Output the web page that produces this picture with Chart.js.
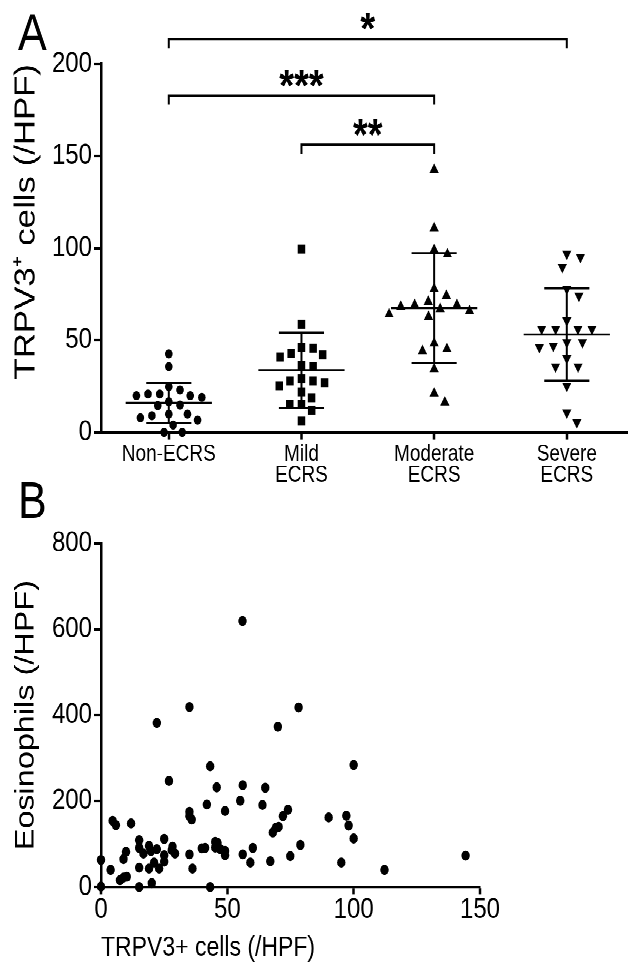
<!DOCTYPE html>
<html>
<head>
<meta charset="utf-8">
<script src="https://cdn.jsdelivr.net/npm/chart.js@4.4.1/dist/chart.umd.min.js"></script>
<style>
html, body { margin: 0; padding: 0; background: #fff; }
html { overflow: hidden; }
body { width: 633px; height: 965px; }
#stage { position: relative; width: 633px; height: 804px; transform-origin: 0 0; }
#stage canvas { display: block; position: absolute; left: 0; }
#chartA { top: 0; }
#chartB { top: 400px; }
</style>
</head>
<body>
<div id="stage">
  <canvas id="chartA" width="633" height="412"></canvas>
  <canvas id="chartB" width="633" height="404"></canvas>
</div>
<script>
// the original figure is stretched vertically, so draw flat and then stretch
const STRETCH = 1.2;

// Panel A - TRPV3+ cells (/HPF) per group
const groups = [['Non-ECRS'], ['Mild', 'ECRS'], ['Moderate', 'ECRS'], ['Severe', 'ECRS']];
const nonEcrs = [42.6, 35.7, 24.8, 23, 20.8, 20.8, 19.9, 19, 19.9, 16.6, 14.5, 14.8, 9.9, 7.9, 6.7, 9, 9.9, 4, 0, 0];
const mildEcrs = [99.5, 58.7, 45.7, 42, 46, 43, 40.9, 35.7, 36.2, 27.9, 27, 29, 25.3, 27.9, 22, 18.8, 15.2, 15.2, 12.1, 6.1];
const moderateEcrs = [142.6, 110.9, 99.1, 96.7, 77.9, 74.2, 71, 69.2, 69.2, 68.3, 67, 65.9, 64.1, 62.8, 48.4, 44.2, 45.3, 34.4, 21.2, 16.3];
const severeEcrs = [96.9, 95.1, 89.7, 77.9, 74.1, 60.7, 56.1, 56.1, 56.1, 56.1, 48.9, 46.9, 46.2, 48.9, 40.2, 35.7, 35.7, 25.2, 10.7, 5.4];
const yTicksA = [0, 50, 100, 150, 200];

// significance brackets: groups compared, bracket height (cells/HPF), label
const sigFrom = [1, 1, 2];
const sigTo = [4, 3, 3];
const sigLevel = [213.5, 182.8, 156.1];
const sigLabel = ['*', '***', '**'];

// Panel B - TRPV3+ cells vs eosinophils
const trpv3 = [56.0, 35.0, 78.2, 22.1, 70.0, 100.0, 43.2, 26.9, 56.1, 45.8, 65.0, 55.1, 41.9, 63.9, 35.0, 49.1, 74.0, 35.0, 35.9, 72.0,
  90.1, 97.1, 98.0, 100.0, 4.6, 5.9, 11.9, 68.0, 69.2, 70.3, 25.0, 15.1, 15.1, 19.0, 22.1, 16.8, 19.8, 28.3, 28.0, 29.3,
  25.0, 9.9, 8.9, 0, 3.8, 7.5, 8.9, 10.2, 0, 15.1, 20.1, 15.1, 19.0, 23.0, 21.0, 25.0, 35.0, 36.2, 39.9, 41.2,
  45.2, 46.1, 45.2, 47.2, 49.1, 49.1, 43.2, 56.1, 60.1, 59.1, 67.0, 74.9, 78.9, 95.1, 112.2, 144.3];
const eosinophils = [619, 419, 418, 382, 373, 284, 281, 247, 237, 232, 231, 201, 192, 191, 175, 177, 180, 165, 157, 165,
  162, 166, 143, 113, 154, 144, 148, 127, 138, 140, 112, 109, 91, 96, 88, 78, 84, 94, 86, 78,
  74, 82, 65, 63, 40, 16, 22, 24, 1, 0, 9, 45, 43, 43, 57, 59, 76, 43, 90, 91,
  105, 103, 92, 88, 84, 74, 0, 76, 91, 57, 60, 72, 98, 57, 40, 73];
const xTicksB = [0, 50, 100, 150];
const yTicksB = [0, 200, 400, 600, 800];

document.getElementById('stage').style.transform = 'scaleY(' + STRETCH + ')';

Chart.defaults.font.family = "'Liberation Sans', Arial, sans-serif";
Chart.defaults.color = '#000';

const mean = a => a.reduce((s, v) => s + v, 0) / a.length;
const sd = a => { const m = mean(a); return Math.sqrt(a.reduce((s, v) => s + (v - m) * (v - m), 0) / (a.length - 1)); };

const panelLetter = {
  id: 'panelLetter',
  afterDraw(chart, args, opts) {
    const ctx = chart.ctx;
    ctx.save();
    ctx.fillStyle = '#000';
    ctx.font = "43px 'Liberation Sans', Arial, sans-serif";
    ctx.textBaseline = 'alphabetic';
    ctx.fillText(opts.text, opts.x, opts.y);
    ctx.restore();
  }
};

// mean +/- SD lines over each group
const meanSd = {
  id: 'meanSd',
  afterDatasetsDraw(chart) {
    const {ctx, scales: {x, y}} = chart;
    ctx.save();
    ctx.strokeStyle = '#000';
    [nonEcrs, mildEcrs, moderateEcrs, severeEcrs].forEach((vals, i) => {
      const g = i + 1, m = mean(vals), s = sd(vals);
      const ym = y.getPixelForValue(m), yt = y.getPixelForValue(m + s), yb = y.getPixelForValue(m - s);
      ctx.lineWidth = 2;
      ctx.beginPath();
      ctx.moveTo(x.getPixelForValue(g), yt);
      ctx.lineTo(x.getPixelForValue(g), yb);
      ctx.stroke();
      ctx.lineWidth = 1.8;
      ctx.beginPath();
      ctx.moveTo(x.getPixelForValue(g - 0.325), ym);
      ctx.lineTo(x.getPixelForValue(g + 0.325), ym);
      ctx.moveTo(x.getPixelForValue(g - 0.17), yt);
      ctx.lineTo(x.getPixelForValue(g + 0.17), yt);
      ctx.moveTo(x.getPixelForValue(g - 0.17), yb);
      ctx.lineTo(x.getPixelForValue(g + 0.17), yb);
      ctx.stroke();
    });
    ctx.restore();
  }
};

const sigBrackets = {
  id: 'sigBrackets',
  afterDraw(chart) {
    const {ctx, scales: {x, y}} = chart;
    const drop = 7.5, fs = 38;
    ctx.save();
    ctx.strokeStyle = '#000';
    ctx.fillStyle = '#000';
    ctx.lineWidth = 2;
    ctx.font = 'bold ' + fs + "px 'Liberation Sans', Arial, sans-serif";
    ctx.textAlign = 'center';
    ctx.textBaseline = 'alphabetic';
    sigLabel.forEach((label, i) => {
      const x0 = x.getPixelForValue(sigFrom[i]), x1 = x.getPixelForValue(sigTo[i]);
      const yy = y.getPixelForValue(sigLevel[i]);
      ctx.beginPath();
      ctx.moveTo(x0, yy + drop);
      ctx.lineTo(x0, yy);
      ctx.lineTo(x1, yy);
      ctx.lineTo(x1, yy + drop);
      ctx.stroke();
      ctx.fillText(label, (x0 + x1) / 2, yy - 17.5 + 0.57 * fs);
    });
    ctx.restore();
  }
};

const axisStyle = (tickLen, tickW, borderW) => ({
  grid: { drawOnChartArea: false, drawTicks: true, tickLength: tickLen, tickWidth: tickW, tickColor: '#000', color: '#000' },
  border: { display: true, color: '#000', width: borderW }
});

// Panel A
const series = [nonEcrs, mildEcrs, moderateEcrs, severeEcrs];
const shapes = [
  { pointStyle: 'circle', pointRadius: 3.8, rotation: 0, gap: 11.7 },
  { pointStyle: 'rect', pointRadius: 5.3, rotation: 0, gap: 11.7 },
  { pointStyle: 'triangle', pointRadius: 5.3, rotation: 0, gap: 14 },
  { pointStyle: 'triangle', pointRadius: 5.3, rotation: 180, gap: 14 }
];

const chartA = new Chart(document.getElementById('chartA'), {
  type: 'scatter',
  data: {
    datasets: series.map((vals, i) => ({
      data: vals.map(v => ({ x: i + 1, y: v })),
      pointStyle: shapes[i].pointStyle,
      pointRadius: shapes[i].pointRadius,
      pointHoverRadius: shapes[i].pointRadius,
      rotation: shapes[i].rotation,
      backgroundColor: '#000',
      borderColor: '#000',
      borderWidth: 0,
      clip: false
    }))
  },
  options: {
    responsive: false,
    animation: false,
    devicePixelRatio: 2,
    layout: { padding: { left: 0, right: 0, top: 53.3, bottom: 0 } },
    plugins: { legend: { display: false }, tooltip: { enabled: false }, panelLetter: { text: 'A', x: 18, y: 41.7 } },
    scales: {
      x: {
        type: 'linear', min: 0.489, max: 4.459,
        afterBuildTicks: s => { s.ticks = groups.map((g, i) => ({ value: i + 1 })); },
        afterFit: s => { s.height = 412 - 360.3; },
        ticks: { callback: v => groups[v - 1], autoSkip: false, maxRotation: 0, padding: 3.5,
          font: { size: 19, lineHeight: 0.92 } },
        ...axisStyle(6, 2.5, 2.1)
      },
      y: {
        min: 0, max: 200,
        afterBuildTicks: s => { s.ticks = yTicksA.map(v => ({ value: v })); },
        afterFit: s => { s.width = 101; },
        ticks: { padding: 2, font: { size: 24, lineHeight: 1 } },
        title: { display: true, text: 'TRPV3\u207A cells (/HPF)', align: 'end', font: { size: 29 }, padding: { top: 9, bottom: 0 } },
        ...axisStyle(7, 2.1, 2.5)
      }
    }
  },
  plugins: [meanSd, sigBrackets, panelLetter]
});

// spread points of a group sideways so they do not overlap (like a dot plot)
function swarm(chart, vals, g, gap) {
  const xs = chart.scales.x, ys = chart.scales.y;
  const cx = xs.getPixelForValue(g);
  const order = vals.map((v, i) => i).sort((a, b) => vals[b] - vals[a]);
  const placed = [];
  const out = new Array(vals.length);
  order.forEach(i => {
    const py = ys.getPixelForValue(vals[i]) * STRETCH;
    const cands = [0];
    placed.forEach(p => {
      const dy = Math.abs(p.py - py);
      if (dy < gap) {
        const w = Math.sqrt(gap * gap - dy * dy);
        cands.push(p.dx + w, p.dx - w);
      }
    });
    cands.sort((a, b) => Math.abs(a) - Math.abs(b) || b - a);
    const dx = cands.find(c => placed.every(p => Math.hypot(p.dx - c, p.py - py) >= gap - 0.01));
    placed.push({ dx, py });
    out[i] = { x: xs.getValueForPixel(cx + dx), y: vals[i] };
  });
  return out;
}
series.forEach((vals, i) => { chartA.data.datasets[i].data = swarm(chartA, vals, i + 1, shapes[i].gap); });
chartA.update('none');

// Panel B
new Chart(document.getElementById('chartB'), {
  type: 'scatter',
  data: {
    datasets: [{
      data: trpv3.map((v, i) => ({ x: v, y: eosinophils[i] })),
      pointStyle: 'circle',
      pointRadius: 4.2,
      pointHoverRadius: 4.2,
      backgroundColor: '#000',
      borderColor: '#000',
      borderWidth: 0,
      clip: false
    }]
  },
  options: {
    responsive: false,
    animation: false,
    devicePixelRatio: 2,
    layout: { padding: { left: 0, right: 153, top: 52.75, bottom: 0 } },
    plugins: { legend: { display: false }, tooltip: { enabled: false }, panelLetter: { text: 'B', x: 18, y: 31.7 } },
    scales: {
      x: {
        type: 'linear', min: 0, max: 150,
        afterBuildTicks: s => { s.ticks = xTicksB.map(v => ({ value: v })); },
        afterFit: s => { s.height = 404 - 339.2; },
        ticks: { padding: 1.3, font: { size: 24, lineHeight: 1 } },
        title: { display: true, text: 'TRPV3+ cells (/HPF)', align: 'start', font: { size: 23 }, padding: { top: 0, bottom: 0 } },
        ...axisStyle(6, 2.5, 2.1)
      },
      y: {
        min: 0, max: 800,
        afterBuildTicks: s => { s.ticks = yTicksB.map(v => ({ value: v })); },
        afterFit: s => { s.width = 101; },
        ticks: { padding: 2, font: { size: 24, lineHeight: 1 } },
        title: { display: true, text: 'Eosinophils (/HPF)', font: { size: 27 }, padding: { top: 10, bottom: 0 } },
        ...axisStyle(7, 2.1, 2.5)
      }
    }
  },
  plugins: [panelLetter]
});
</script>
</body>
</html>
